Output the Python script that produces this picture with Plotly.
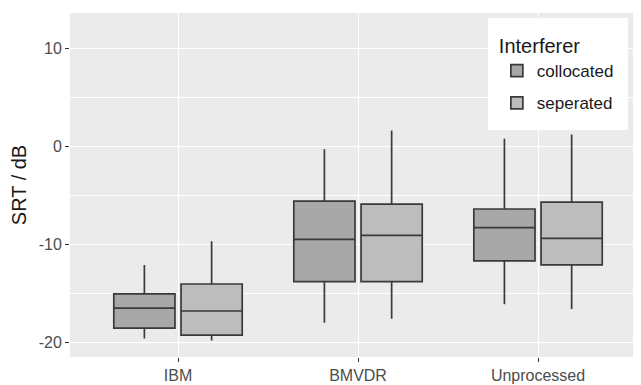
import plotly.graph_objects as go

categories = ["IBM", "BMVDR", "Unprocessed"]
groups = ["collocated", "seperated"]

# box statistics per group: lower whisker, Q1, median, Q3, upper whisker
coll_low = [-19.6, -18.0, -16.1]
coll_q1 = [-18.55, -13.8, -11.7]
coll_med = [-16.5, -9.5, -8.3]
coll_q3 = [-15.05, -5.6, -6.4]
coll_high = [-12.1, -0.3, 0.75]

sep_low = [-19.8, -17.6, -16.6]
sep_q1 = [-19.25, -13.8, -12.1]
sep_med = [-16.8, -9.1, -9.4]
sep_q3 = [-14.05, -5.9, -5.7]
sep_high = [-9.7, 1.6, 1.2]

y_ticks = [-20, -10, 0, 10]
y_tick_labels = ["-20", "-10", "0", "10"]

fills = ["#A8A8A8", "#BDBDBD"]
stats = [
    (coll_low, coll_q1, coll_med, coll_q3, coll_high),
    (sep_low, sep_q1, sep_med, sep_q3, sep_high),
]

fig = go.Figure()
for name, fill, (lo, q1, med, q3, hi) in zip(groups, fills, stats):
    fig.add_trace(go.Box(
        name=name,
        legendgroup=name,
        x=categories,
        lowerfence=lo, q1=q1, median=med, q3=q3, upperfence=hi,
        fillcolor=fill,
        line=dict(color="#3A3A3A", width=1.7),
        whiskerwidth=0,
        boxpoints=False,
        hoverinfo="skip",
    ))

font_family = "Liberation Sans, Arial, sans-serif"
fig.update_layout(
    width=633, height=377,
    margin=dict(l=62, r=0, t=5, b=28),
    paper_bgcolor="white",
    plot_bgcolor="#EBEBEB",
    boxmode="group",
    boxgap=0.253,
    boxgroupgap=0.09,
    font=dict(family=font_family, color="#4D4D4D", size=16),
    showlegend=True,
    legend=dict(
        title=dict(text="Interferer", font=dict(size=20, color="#1A1A1A")),
        font=dict(size=17, color="#1A1A1A"),
        bgcolor="white",
        x=0.977, xanchor="right",
        y=0.985, yanchor="top",
        traceorder="grouped",
        tracegroupgap=7,
        borderwidth=9, bordercolor="white",
    ),
    xaxis=dict(
        type="category",
        range=[-0.6, 2.572],
        showgrid=True, gridcolor="white", gridwidth=1.3,
        ticks="outside", ticklen=4, tickcolor="#333333", tickwidth=1,
        tickfont=dict(size=16, color="#4D4D4D"),
        zeroline=False, showline=False,
        fixedrange=True,
    ),
    yaxis=dict(
        range=[-21.49, 13.58],
        tickvals=y_ticks,
        ticktext=y_tick_labels,
        showgrid=True, gridcolor="white", gridwidth=1.3,
        minor=dict(dtick=5, tick0=0, showgrid=True, gridcolor="white", gridwidth=0.6),
        ticks="outside", ticklen=4, tickcolor="#333333", tickwidth=1,
        tickfont=dict(size=16, color="#4D4D4D"),
        zeroline=False, showline=False,
        title=dict(text="SRT / dB", font=dict(size=20, color="#1A1A1A"), standoff=6),
        fixedrange=True,
    ),
)

fig.write_html("out.html")
